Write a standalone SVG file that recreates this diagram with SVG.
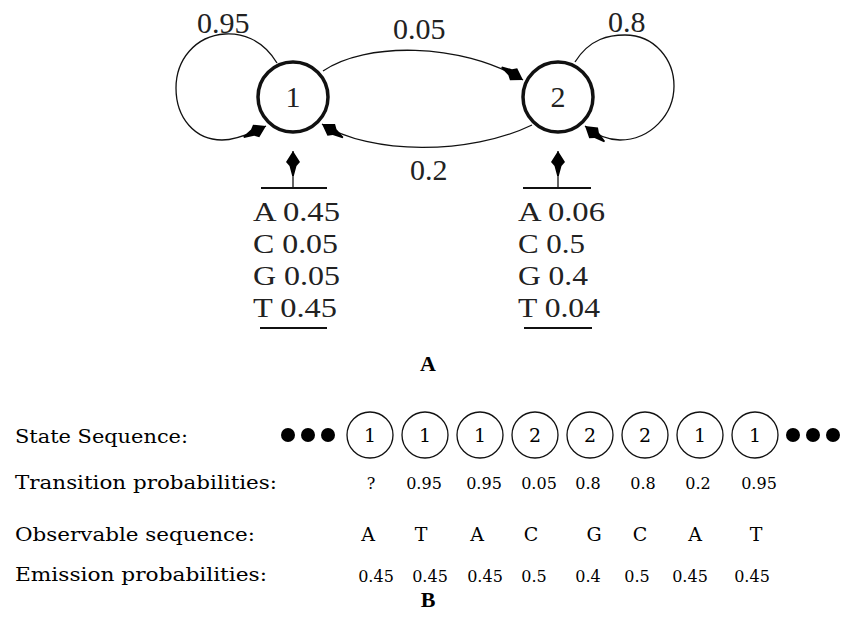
<svg xmlns="http://www.w3.org/2000/svg" width="844" height="631" viewBox="0 0 844 631">
<style>
.t{font-family:"Liberation Serif","Times New Roman",serif;fill:#222}
.big{font-size:30px}
.tab{font-size:28px}
.lab{font-family:"Liberation Serif",serif;font-weight:bold;font-size:22px;fill:#000;text-anchor:middle}
.seq{font-family:"DejaVu Serif","Liberation Serif",serif;fill:#000}
.rowlab{font-size:19px}
.num{font-size:16px;text-anchor:middle}
.let{font-size:19px;text-anchor:middle}
.cd{font-size:19px;text-anchor:middle}
.edge{fill:none;stroke:#111;stroke-width:1.3}
.node{fill:#fff;stroke:#111;stroke-width:3.5}
.sc{fill:#fff;stroke:#111;stroke-width:1.3}
.rule{stroke:#111;stroke-width:1.8}
.dot{fill:#000}
</style>
<defs>
<marker id="ah" markerUnits="userSpaceOnUse" markerWidth="28" markerHeight="18" refX="26" refY="9" orient="auto" viewBox="0 0 28 18">
<path d="M26,9 L15,2 L11,5.5 L1,8.2 L1,9.8 L11,12.5 L15,16 Z" fill="#000"/>
</marker>
</defs>
<g id="connectors">
<path class="edge" d="M 277 63 C 262 38, 240 33, 225 34 C 195 36, 176 60, 176 88 C 176 118, 195 140, 222 140 C 235 140, 250 134, 266 126" marker-end="url(#ah)"/>
<path class="edge" d="M 323 71 C 365 42, 460 42, 523 80" marker-end="url(#ah)"/>
<path class="edge" d="M 532 125 C 470 155, 370 155, 322 124" marker-end="url(#ah)"/>
<path class="edge" d="M 575 62 C 590 38, 610 35, 625 35 C 655 35, 674 60, 674 86 C 674 115, 650 140, 620 140 C 607 140, 595 134, 585 126" marker-end="url(#ah)"/>
<path class="edge" d="M 293 188 L 293 151" marker-end="url(#ah)"/>
<path class="edge" d="M 558 188 L 558 151" marker-end="url(#ah)"/>
</g>
<g id="edge-labels">
<text class="t big" x="197" y="33">0.95</text>
<text class="t big" x="393" y="39">0.05</text>
<text class="t big" x="608" y="32">0.8</text>
<text class="t big" x="410" y="180">0.2</text>
</g>
<g id="state1">
<circle class="node" cx="293" cy="97" r="35"/>
<text class="t big" x="293" y="107" text-anchor="middle">1</text>
</g>
<g id="state2">
<circle class="node" cx="558" cy="97" r="35"/>
<text class="t big" x="558" y="107" text-anchor="middle">2</text>
</g>
<g id="emission1">
<line class="rule" x1="261" y1="188" x2="327" y2="188"/>
<text class="t tab" x="253" y="221" textLength="87" lengthAdjust="spacingAndGlyphs">A 0.45</text>
<text class="t tab" x="253" y="253" textLength="85" lengthAdjust="spacingAndGlyphs">C 0.05</text>
<text class="t tab" x="253" y="285" textLength="87" lengthAdjust="spacingAndGlyphs">G 0.05</text>
<text class="t tab" x="253" y="317" textLength="84" lengthAdjust="spacingAndGlyphs">T 0.45</text>
<line class="rule" x1="260" y1="328" x2="327" y2="328"/>
</g>
<g id="emission2">
<line class="rule" x1="523" y1="188" x2="591" y2="188"/>
<text class="t tab" x="518" y="221" textLength="87" lengthAdjust="spacingAndGlyphs">A 0.06</text>
<text class="t tab" x="518" y="253" textLength="67" lengthAdjust="spacingAndGlyphs">C 0.5</text>
<text class="t tab" x="518" y="285" textLength="70" lengthAdjust="spacingAndGlyphs">G 0.4</text>
<text class="t tab" x="518" y="317" textLength="82" lengthAdjust="spacingAndGlyphs">T 0.04</text>
<line class="rule" x1="524" y1="328" x2="592" y2="328"/>
</g>
<text class="lab" x="428" y="371">A</text>
<g id="sequence">
<text class="seq rowlab" x="15" y="443" textLength="173" lengthAdjust="spacingAndGlyphs">State Sequence:</text>
<text class="seq rowlab" x="15" y="489" textLength="262" lengthAdjust="spacingAndGlyphs">Transition probabilities:</text>
<text class="seq rowlab" x="15" y="541" textLength="240" lengthAdjust="spacingAndGlyphs">Observable sequence:</text>
<text class="seq rowlab" x="15" y="581" textLength="252" lengthAdjust="spacingAndGlyphs">Emission probabilities:</text>
<circle class="dot" cx="288" cy="435" r="7"/>
<circle class="dot" cx="308" cy="435" r="7"/>
<circle class="dot" cx="328" cy="435" r="7"/>
<circle class="dot" cx="793" cy="435" r="7"/>
<circle class="dot" cx="813" cy="435" r="7"/>
<circle class="dot" cx="833" cy="435" r="7"/>
<g id="s1"><circle class="sc" cx="370" cy="435" r="23"/><text class="seq cd" x="370" y="442">1</text></g>
<g id="s2"><circle class="sc" cx="425" cy="435" r="23"/><text class="seq cd" x="425" y="442">1</text></g>
<g id="s3"><circle class="sc" cx="480" cy="435" r="23"/><text class="seq cd" x="480" y="442">1</text></g>
<g id="s4"><circle class="sc" cx="535" cy="435" r="23"/><text class="seq cd" x="535" y="442">2</text></g>
<g id="s5"><circle class="sc" cx="590" cy="435" r="23"/><text class="seq cd" x="590" y="442">2</text></g>
<g id="s6"><circle class="sc" cx="645" cy="435" r="23"/><text class="seq cd" x="645" y="442">2</text></g>
<g id="s7"><circle class="sc" cx="700" cy="435" r="23"/><text class="seq cd" x="700" y="442">1</text></g>
<g id="s8"><circle class="sc" cx="755" cy="435" r="23"/><text class="seq cd" x="755" y="442">1</text></g>
<text class="seq num" x="371" y="489">?</text>
<text class="seq num" x="424" y="489">0.95</text>
<text class="seq num" x="484" y="489">0.95</text>
<text class="seq num" x="539" y="489">0.05</text>
<text class="seq num" x="588" y="489">0.8</text>
<text class="seq num" x="643" y="489">0.8</text>
<text class="seq num" x="698" y="489">0.2</text>
<text class="seq num" x="759" y="489">0.95</text>
<text class="seq let" x="368" y="541">A</text>
<text class="seq let" x="421" y="541">T</text>
<text class="seq let" x="477" y="541">A</text>
<text class="seq let" x="531" y="541">C</text>
<text class="seq let" x="594" y="541">G</text>
<text class="seq let" x="640" y="541">C</text>
<text class="seq let" x="695" y="541">A</text>
<text class="seq let" x="756" y="541">T</text>
<text class="seq num" x="376" y="582">0.45</text>
<text class="seq num" x="430" y="582">0.45</text>
<text class="seq num" x="485" y="582">0.45</text>
<text class="seq num" x="534" y="582">0.5</text>
<text class="seq num" x="588" y="582">0.4</text>
<text class="seq num" x="637" y="582">0.5</text>
<text class="seq num" x="690" y="582">0.45</text>
<text class="seq num" x="752" y="582">0.45</text>
</g>
<text class="lab" x="428" y="607">B</text>
</svg>
